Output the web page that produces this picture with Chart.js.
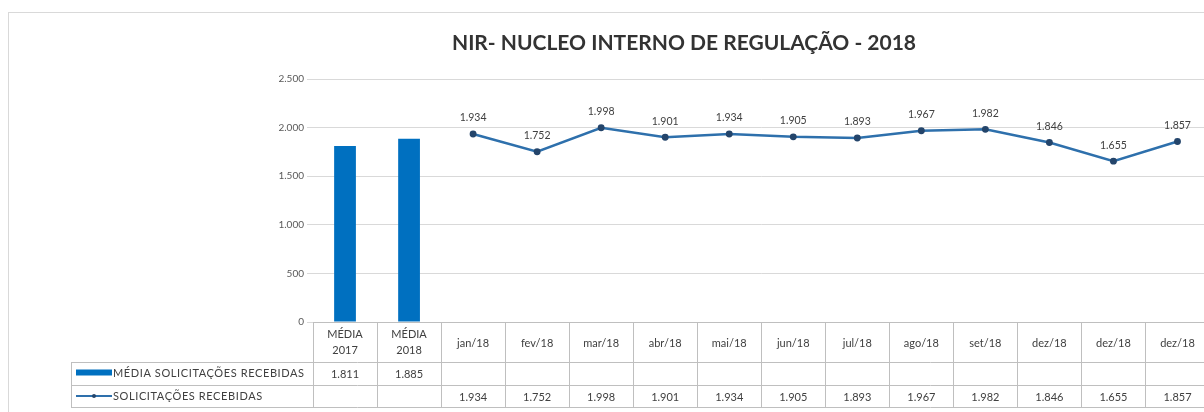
<!DOCTYPE html>
<html>
<head>
<meta charset="utf-8">
<script src="https://cdn.jsdelivr.net/npm/chart.js@4.4.1/dist/chart.umd.min.js"></script>
<style>
    html, body { margin: 0; padding: 0; background: #fff; overflow: hidden; }
    canvas { display: block; }
</style>
</head>
<body>
<canvas id="nirChart" width="1216" height="412"></canvas>
<script>
// dados
const mediaCategorias = ['MÉDIA 2017', 'MÉDIA 2018'];
const mediaSolicitacoes = [1811, 1885];
const meses = ['jan/18', 'fev/18', 'mar/18', 'abr/18', 'mai/18', 'jun/18', 'jul/18', 'ago/18', 'set/18', 'dez/18', 'dez/18', 'dez/18'];
const solicitacoes = [1934, 1752, 1998, 1901, 1934, 1905, 1893, 1967, 1982, 1846, 1655, 1857];
const yMin = 0, yMax = 2500, yStep = 500;

const titulo = 'NIR- NUCLEO INTERNO DE REGULAÇÃO - 2018';
const serieBarra = 'MÉDIA SOLICITAÇÕES RECEBIDAS';
const serieLinha = 'SOLICITAÇÕES RECEBIDAS';

const categorias = mediaCategorias.concat(meses);
const dadosBarra = mediaSolicitacoes.concat(meses.map(() => null));
const dadosLinha = mediaCategorias.map(() => null).concat(solicitacoes);

const corBarra = '#0070C0';
const corLinha = '#2E70AC';
const corPonto = '#24456B';
const corTexto = '#404040';
const corGrade = '#d9d9d9';
const corTabela = '#bfbfbf';
const fonte = 'Lato, "Open Sans", sans-serif';

function fmt(v) {
    return String(v).replace(/\B(?=(\d{3})+(?!\d))/g, '.');
}

// moldura e titulo (o grafico original continua a direita, por isso o titulo fica deslocado)
const molduraPlugin = {
    id: 'moldura',
    beforeDraw(chart) {
        const ctx = chart.ctx;
        ctx.save();
        ctx.strokeStyle = corGrade;
        ctx.lineWidth = 1;
        ctx.strokeRect(8.5, 12.5, 1400, 600);
        ctx.fillStyle = '#333333';
        ctx.font = 'bold 21px ' + fonte;
        ctx.textAlign = 'center';
        ctx.textBaseline = 'middle';
        ctx.fillText(titulo, 684, 43);
        ctx.restore();
    }
};

// rotulos acima dos pontos da linha
const rotulosPlugin = {
    id: 'rotulos',
    afterDatasetsDraw(chart) {
        const ctx = chart.ctx;
        const meta = chart.getDatasetMeta(1);
        ctx.save();
        ctx.font = '10.5px ' + fonte;
        ctx.fillStyle = corTexto;
        ctx.textAlign = 'center';
        ctx.textBaseline = 'middle';
        meta.data.forEach((pt, i) => {
            const v = chart.data.datasets[1].data[i];
            if (v == null) return;
            ctx.fillText(fmt(v), pt.x, pt.y - 16);
        });
        ctx.restore();
    }
};

// tabela de dados abaixo do grafico
const tabelaPlugin = {
    id: 'tabela',
    afterDraw(chart) {
        const ctx = chart.ctx;
        const x = chart.scales.x;
        const area = chart.chartArea;
        const n = chart.data.labels.length;
        const w = (area.right - area.left) / n;
        const topo = area.bottom;
        const linha1 = topo + 40;
        const linha2 = linha1 + 23;
        const linha3 = linha2 + 22;
        const esq = 71;

        ctx.save();
        ctx.strokeStyle = corTabela;
        ctx.lineWidth = 1;
        ctx.beginPath();
        ctx.moveTo(area.left, topo + 0.5);
        ctx.lineTo(area.right + 20, topo + 0.5);
        [linha1, linha2, linha3].forEach(y => {
            ctx.moveTo(esq, y + 0.5);
            ctx.lineTo(area.right + 20, y + 0.5);
        });
        for (let i = 0; i <= n; i++) {
            const xe = Math.round(area.left + i * w) + 0.5;
            ctx.moveTo(xe, topo);
            ctx.lineTo(xe, linha3);
        }
        ctx.moveTo(esq + 0.5, linha1);
        ctx.lineTo(esq + 0.5, linha3);
        ctx.stroke();

        ctx.fillStyle = corTexto;
        ctx.textAlign = 'center';
        ctx.textBaseline = 'middle';
        ctx.font = '11px ' + fonte;
        chart.data.labels.forEach((lab, i) => {
            const cx = x.getPixelForValue(i);
            const partes = lab.split(' ');
            if (partes.length > 1) {
                ctx.fillText(partes[0], cx, topo + 12);
                ctx.fillText(partes[1], cx, topo + 28);
            } else {
                ctx.fillText(lab, cx, topo + 21);
            }
            const vb = chart.data.datasets[0].data[i];
            if (vb != null) ctx.fillText(fmt(vb), cx, (linha1 + linha2) / 2 + 1);
            const vl = chart.data.datasets[1].data[i];
            if (vl != null) ctx.fillText(fmt(vl), cx, (linha2 + linha3) / 2 + 1);
        });

        // legenda
        const y2 = (linha1 + linha2) / 2;
        const y3 = (linha2 + linha3) / 2;
        ctx.fillStyle = corBarra;
        ctx.fillRect(76, y2 - 4, 36, 6);
        ctx.strokeStyle = corLinha;
        ctx.lineWidth = 2;
        ctx.beginPath();
        ctx.moveTo(76, y3);
        ctx.lineTo(112, y3);
        ctx.stroke();
        ctx.fillStyle = corPonto;
        ctx.beginPath();
        ctx.arc(94, y3, 2, 0, Math.PI * 2);
        ctx.fill();

        ctx.fillStyle = corTexto;
        ctx.textAlign = 'left';
        ctx.letterSpacing = '0.6px';
        ctx.fillText(chart.data.datasets[0].label, 113, y2);
        ctx.fillText(chart.data.datasets[1].label, 113, y3);
        ctx.restore();
    }
};

new Chart(document.getElementById('nirChart'), {
    type: 'bar',
    data: {
        labels: categorias,
        datasets: [{
            label: serieBarra,
            data: dadosBarra,
            backgroundColor: corBarra,
            categoryPercentage: 1,
            barPercentage: 0.34,
            order: 2
        }, {
            type: 'line',
            label: serieLinha,
            data: dadosLinha,
            borderColor: corLinha,
            borderWidth: 2.5,
            pointRadius: 2.2,
            pointBackgroundColor: corPonto,
            pointBorderColor: corPonto,
            tension: 0,
            order: 1
        }]
    },
    options: {
        responsive: false,
        animation: false,
        layout: {
            padding: { left: 0, right: 3, top: 79, bottom: 90 }
        },
        plugins: {
            legend: { display: false },
            tooltip: { enabled: false },
            title: { display: false }
        },
        scales: {
            x: {
                display: false
            },
            y: {
                min: yMin,
                max: yMax,
                ticks: {
                    stepSize: yStep,
                    color: '#595959',
                    font: { family: fonte, size: 10 },
                    callback: v => fmt(v)
                },
                grid: { color: corGrade, tickLength: 6 },
                border: { display: false },
                afterFit(scale) {
                    scale.width = 313;
                }
            }
        }
    },
    plugins: [molduraPlugin, rotulosPlugin, tabelaPlugin]
});
</script>
</body>
</html>
